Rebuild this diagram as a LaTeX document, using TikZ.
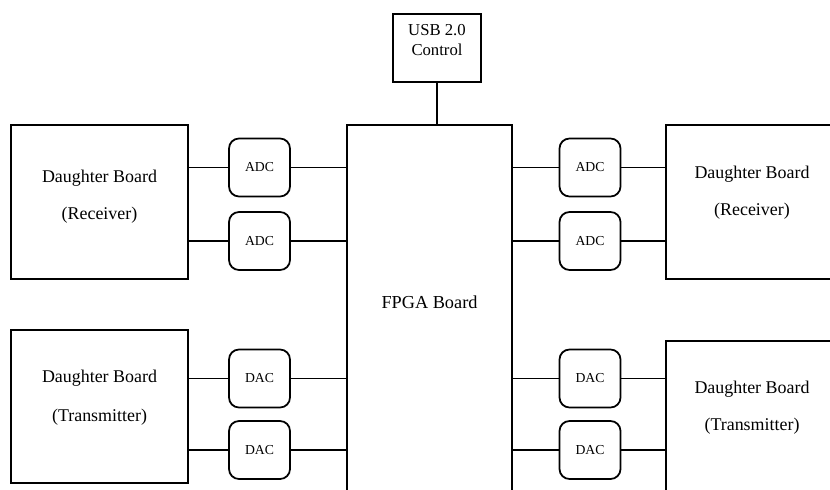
\documentclass[tikz,border=0pt]{standalone}
\usepackage{fontspec}
\setmainfont{Liberation Serif}
\usetikzlibrary{calc}

\begin{document}
\begin{tikzpicture}[
    board/.style={
        draw=black,
        line width=0.9pt,
        minimum width=3.54cm,
        minimum height=3.08cm
    },
    boardtext/.style={
        font=\fontsize{10.2}{12}\selectfont,
        align=center
    },
    converter/.style={
        draw=black,
        line width=1pt,
        rounded corners=0.2cm,
        minimum width=1.22cm,
        minimum height=1.16cm,
        font=\fontsize{7.8}{9}\selectfont
    },
    link/.style={
        draw=black,
        line width=1.1pt
    }
]

\useasboundingbox (0,0) rectangle (16.6,9.78);

% Horizontal positions
\def\LeftX{1.99}
\def\LeftConvX{5.19}
\def\FpgaX{8.59}
\def\RightConvX{11.80}
\def\RightX{15.09}

% ==================================================
% FPGA board and USB control
% ==================================================

\node[board, minimum width=3.30cm, minimum height=7.58cm] (fpga)
    at (\FpgaX,3.49) {};

\node[boardtext, font=\fontsize{10.4}{12}\selectfont] (fpgatext)
    at (\FpgaX,3.74) {FPGA Board};

\node[board, minimum width=1.76cm, minimum height=1.36cm] (usb)
    at (8.74,8.82) {};

\node[boardtext, font=\fontsize{9.5}{11.3}\selectfont] (usbtext)
    at (8.74,8.98) {USB 2.0\\Control};

% USB control to FPGA board
\draw[link] (usb.south) -- (usb.south |- fpga.north);

% ==================================================
% Daughter boards
% ==================================================

\node[board] (rxleft) at (\LeftX,5.74) {};
\node[boardtext] (rxlefttext) at (\LeftX,5.85)
    {Daughter Board\\[9pt](Receiver)};

\node[board, minimum height=3.06cm] (txleft) at (\LeftX,1.65) {};
\node[boardtext] (txlefttext) at (\LeftX,1.83)
    {Daughter Board\\[10pt](Transmitter)};

\node[board] (rxright) at (\RightX,5.74) {};
\node[boardtext] (rxrighttext) at (15.04,5.92)
    {Daughter Board\\[9pt](Receiver)};

\node[board, minimum height=3.06cm] (txright) at (\RightX,1.43) {};
\node[boardtext] (txrighttext) at (15.04,1.62)
    {Daughter Board\\[9pt](Transmitter)};

% ==================================================
% Converters, left side
% ==================================================

\node[converter] (adcla) at (\LeftConvX,6.43) {ADC};
\node[converter] (adclb) at (\LeftConvX,4.96) {ADC};
\node[converter] (daclc) at (\LeftConvX,2.21) {DAC};
\node[converter] (dacld) at (\LeftConvX,0.78) {DAC};

\draw[link] (adcla.west -| rxleft.east) -- (adcla.west);
\draw[link] (adcla.east) -- (adcla.east -| fpga.west);
\draw[link] (adclb.west -| rxleft.east) -- (adclb.west);
\draw[link] (adclb.east) -- (adclb.east -| fpga.west);
\draw[link] (daclc.west -| txleft.east) -- (daclc.west);
\draw[link] (daclc.east) -- (daclc.east -| fpga.west);
\draw[link] (dacld.west -| txleft.east) -- (dacld.west);
\draw[link] (dacld.east) -- (dacld.east -| fpga.west);

% ==================================================
% Converters, right side
% ==================================================

\node[converter] (adcra) at (\RightConvX,6.43) {ADC};
\node[converter] (adcrb) at (\RightConvX,4.96) {ADC};
\node[converter] (dacrc) at (\RightConvX,2.21) {DAC};
\node[converter] (dacrd) at (\RightConvX,0.78) {DAC};

\draw[link] (adcra.west -| fpga.east) -- (adcra.west);
\draw[link] (adcra.east) -- (adcra.east -| rxright.west);
\draw[link] (adcrb.west -| fpga.east) -- (adcrb.west);
\draw[link] (adcrb.east) -- (adcrb.east -| rxright.west);
\draw[link] (dacrc.west -| fpga.east) -- (dacrc.west);
\draw[link] (dacrc.east) -- (dacrc.east -| txright.west);
\draw[link] (dacrd.west -| fpga.east) -- (dacrd.west);
\draw[link] (dacrd.east) -- (dacrd.east -| txright.west);

\end{tikzpicture}
\end{document}
